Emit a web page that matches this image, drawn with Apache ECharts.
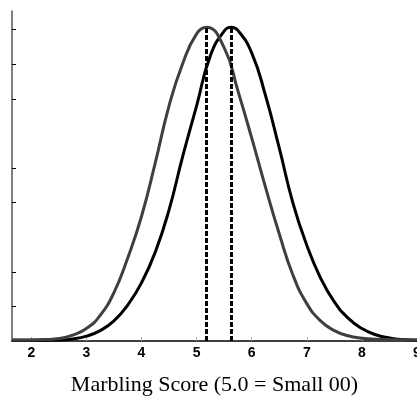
<!DOCTYPE html>
<html>
<head>
<meta charset="utf-8">
<script src="https://cdn.jsdelivr.net/npm/echarts@6/dist/echarts.min.js"></script>
<style>
  html, body { margin: 0; padding: 0; background: #fff; }
  #chart { width: 417px; height: 397px; }
</style>
</head>
<body>
<div id="chart"></div>
<script>
const xsGray = [1.65, 2.0, 2.25, 2.5, 2.75, 3.0, 3.25, 3.5, 3.75, 4.0, 4.25, 4.5, 4.75, 5.0, 5.18,
  5.5, 5.75, 6.0, 6.25, 6.5, 6.75, 7.0, 7.25, 7.5, 7.75, 8.0, 8.25, 8.5, 9.0];
const grayValues = [0.03, 0.03, 0.04, 0.07, 0.17, 0.36, 0.74, 1.4, 2.4, 3.6, 5.15, 6.8, 8.03, 8.88, 9.07,
  8.48, 7.23, 5.87, 4.45, 3.1, 1.9, 1.08, 0.58, 0.3, 0.15, 0.08, 0.05, 0.04, 0.03];

const xsBlack = [1.65, 2.0, 2.5, 2.75, 3.0, 3.25, 3.5, 3.75, 4.0, 4.25, 4.5, 4.75, 5.0, 5.25, 5.5, 5.63,
  5.75, 6.0, 6.25, 6.5, 6.75, 7.0, 7.25, 7.5, 7.75, 8.0, 8.25, 8.5, 8.75, 9.0];
const blackValues = [0.02, 0.02, 0.03, 0.06, 0.14, 0.3, 0.58, 1.04, 1.68, 2.57, 3.79, 5.35, 6.8, 8.25, 8.96, 9.07,
  8.98, 8.33, 7.1, 5.58, 3.98, 2.77, 1.82, 1.13, 0.66, 0.36, 0.18, 0.09, 0.04, 0.02];

// dashed lines at the two means
const means = [5.18, 5.63];
const peaks = [9.07, 9.07];

const xTicks = [2, 3, 4, 5, 6, 7, 8, 9];
const yTicks = [1, 2, 4, 5, 7, 8, 9];

const chart = echarts.init(document.getElementById('chart'));

const pairs = (xs, ys) => xs.map((x, i) => [x, ys[i]]);
const meanLine = (i) => ({
  silent: true,
  symbol: 'none',
  label: { show: false },
  lineStyle: { color: '#000', width: 3, type: [5, 2] },
  data: [[{ coord: [means[i], 0] }, { coord: [means[i], peaks[i]] }]],
});

const option = {
  animation: false,
  backgroundColor: '#fff',
  grid: { left: 12, right: 0, top: 11, bottom: 56, containLabel: false, outerBoundsMode: 'none' },
  xAxis: {
    type: 'value',
    min: 1.65,
    max: 9,
    name: 'Marbling Score (5.0 = Small 00)',
    nameLocation: 'middle',
    nameGap: 33,
    nameTextStyle: { fontFamily: 'Liberation Serif', fontSize: 22, color: '#000' },
    axisLine: { lineStyle: { color: '#000', width: 1.5 } },
    axisTick: { inside: true, length: 4, customValues: xTicks, lineStyle: { color: '#aaa', width: 1 } },
    axisLabel: {
      customValues: xTicks,
      margin: 5,
      fontFamily: 'Liberation Sans',
      fontWeight: 'bold',
      fontSize: 14,
      color: '#000',
    },
    splitLine: { show: false },
  },
  yAxis: {
    type: 'value',
    min: 0,
    max: 9.54,
    axisLine: { show: true, lineStyle: { color: '#555', width: 1.5 } },
    axisTick: { show: true, inside: true, length: 4, customValues: yTicks, lineStyle: { color: '#000', width: 1 } },
    axisLabel: { show: false },
    splitLine: { show: false },
  },
  series: [
    {
      type: 'line',
      data: pairs(xsBlack, blackValues),
      smooth: true,
      showSymbol: false,
      lineStyle: { color: '#000', width: 3 },
      markLine: meanLine(1),
    },
    {
      type: 'line',
      data: pairs(xsGray, grayValues),
      smooth: true,
      showSymbol: false,
      lineStyle: { color: '#3f3f3f', width: 3 },
      markLine: meanLine(0),
    },
  ],
};

chart.setOption(option);
</script>
</body>
</html>
